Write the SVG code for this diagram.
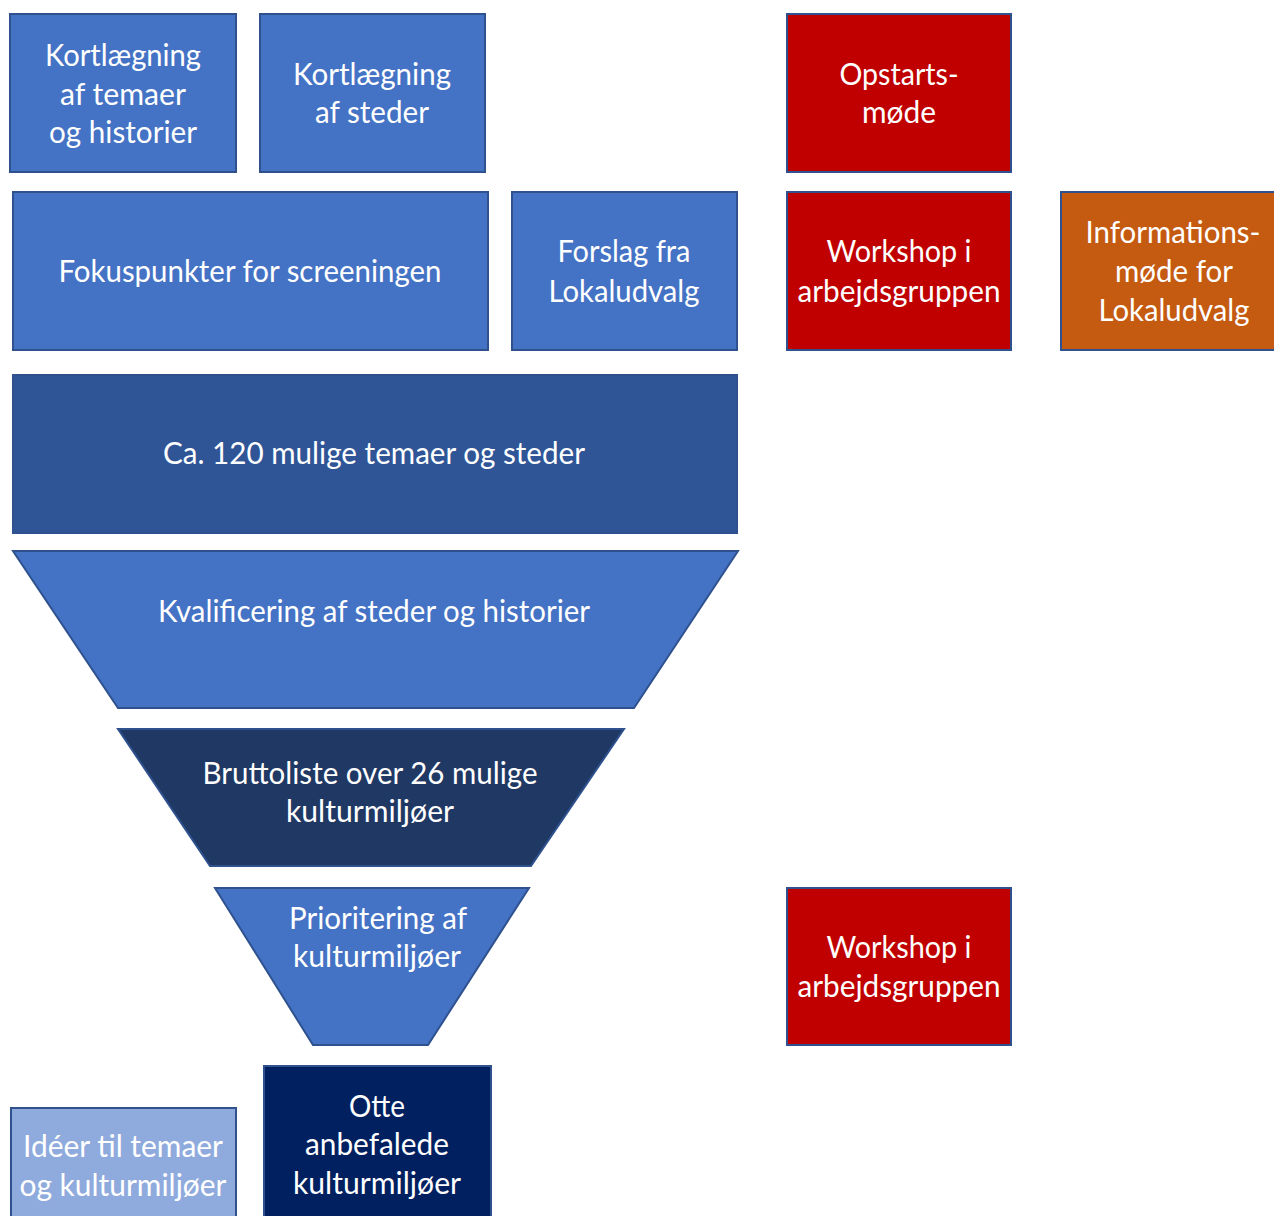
<svg xmlns="http://www.w3.org/2000/svg" width="1274" height="1216" viewBox="0 0 1274 1216">
<style>
text{font-family:Lato,"Open Sans","Liberation Sans",sans-serif;font-size:30px;fill:#ffffff;text-anchor:middle}
.b{fill:#4472C4;stroke:#2F528F;stroke-width:2}
.r{fill:#C00000;stroke:#2F528F;stroke-width:2}
.o{fill:#C55A11;stroke:#2F528F;stroke-width:2}
.m{fill:#2F5597;stroke:#2F528F;stroke-width:2}
.d{fill:#203864;stroke:#2F528F;stroke-width:2}
.n{fill:#002060;stroke:#2F528F;stroke-width:2}
.l{fill:#8FAADC;stroke:#2F528F;stroke-width:2}
</style>
<g id="kort-temaer"><rect class="b" x="10" y="14" width="226" height="158"/>
<text x="123" y="66" textLength="156" lengthAdjust="spacingAndGlyphs">Kortlægning</text>
<text x="123" y="105" textLength="126" lengthAdjust="spacingAndGlyphs">af temaer</text>
<text x="123" y="143" textLength="148" lengthAdjust="spacingAndGlyphs">og historier</text></g>
<g id="kort-steder"><rect class="b" x="260" y="14" width="225" height="158"/>
<text x="372" y="85" textLength="158" lengthAdjust="spacingAndGlyphs">Kortlægning</text>
<text x="372" y="123" textLength="114" lengthAdjust="spacingAndGlyphs">af steder</text></g>
<g id="opstart"><rect class="r" x="787" y="14" width="224" height="158"/>
<text x="899" y="85" textLength="119" lengthAdjust="spacingAndGlyphs">Opstarts-</text>
<text x="899" y="123" textLength="74" lengthAdjust="spacingAndGlyphs">møde</text></g>
<g id="fokus"><rect class="b" x="13" y="192" width="475" height="158"/>
<text x="250" y="282" textLength="383" lengthAdjust="spacingAndGlyphs">Fokuspunkter for screeningen</text></g>
<g id="forslag"><rect class="b" x="512" y="192" width="225" height="158"/>
<text x="624" y="262" textLength="133" lengthAdjust="spacingAndGlyphs">Forslag fra</text>
<text x="624" y="302" textLength="151" lengthAdjust="spacingAndGlyphs">Lokaludvalg</text></g>
<g id="workshop1"><rect class="r" x="787" y="192" width="224" height="158"/>
<text x="899" y="262" textLength="145" lengthAdjust="spacingAndGlyphs">Workshop i</text>
<text x="899" y="302" textLength="203" lengthAdjust="spacingAndGlyphs">arbejdsgruppen</text></g>
<g id="info"><rect class="o" x="1061" y="192" width="222" height="158"/>
<text x="1173" y="243" textLength="175" lengthAdjust="spacingAndGlyphs">Informations-</text>
<text x="1174" y="282" textLength="118" lengthAdjust="spacingAndGlyphs">møde for</text>
<text x="1174" y="321" textLength="151" lengthAdjust="spacingAndGlyphs">Lokaludvalg</text></g>
<g id="ca120"><rect class="m" x="13" y="375" width="724" height="158"/>
<text x="374" y="464" textLength="422" lengthAdjust="spacingAndGlyphs">Ca. 120 mulige temaer og steder</text></g>
<g id="kvalificering"><polygon class="b" points="13,551 738,551 634,708 118,708"/>
<text x="374" y="622" textLength="432" lengthAdjust="spacingAndGlyphs">Kvalificering af steder og historier</text></g>
<g id="brutto"><polygon class="d" points="118,729 624,729 531,866 210,866"/>
<text x="370" y="784" textLength="335" lengthAdjust="spacingAndGlyphs">Bruttoliste over 26 mulige</text>
<text x="370" y="822" textLength="168" lengthAdjust="spacingAndGlyphs">kulturmiljøer</text></g>
<g id="prioritering"><polygon class="b" points="215,888 529,888 428,1045 313,1045"/>
<text x="378" y="929" textLength="178" lengthAdjust="spacingAndGlyphs">Prioritering af</text>
<text x="377" y="967" textLength="168" lengthAdjust="spacingAndGlyphs">kulturmiljøer</text></g>
<g id="workshop2"><rect class="r" x="787" y="888" width="224" height="157"/>
<text x="899" y="958" textLength="145" lengthAdjust="spacingAndGlyphs">Workshop i</text>
<text x="899" y="997" textLength="203" lengthAdjust="spacingAndGlyphs">arbejdsgruppen</text></g>
<g id="ideer"><rect class="l" x="11" y="1108" width="225" height="120"/>
<text x="123" y="1157" textLength="200" lengthAdjust="spacingAndGlyphs">Idéer til temaer</text>
<text x="123" y="1196" textLength="207" lengthAdjust="spacingAndGlyphs">og kulturmiljøer</text></g>
<g id="otte"><rect class="n" x="264" y="1066" width="227" height="160"/>
<text x="377" y="1117" textLength="56" lengthAdjust="spacingAndGlyphs">Otte</text>
<text x="377" y="1155" textLength="144" lengthAdjust="spacingAndGlyphs">anbefalede</text>
<text x="377" y="1194" textLength="168" lengthAdjust="spacingAndGlyphs">kulturmiljøer</text></g>
<g id="connectors"></g>
</svg>
